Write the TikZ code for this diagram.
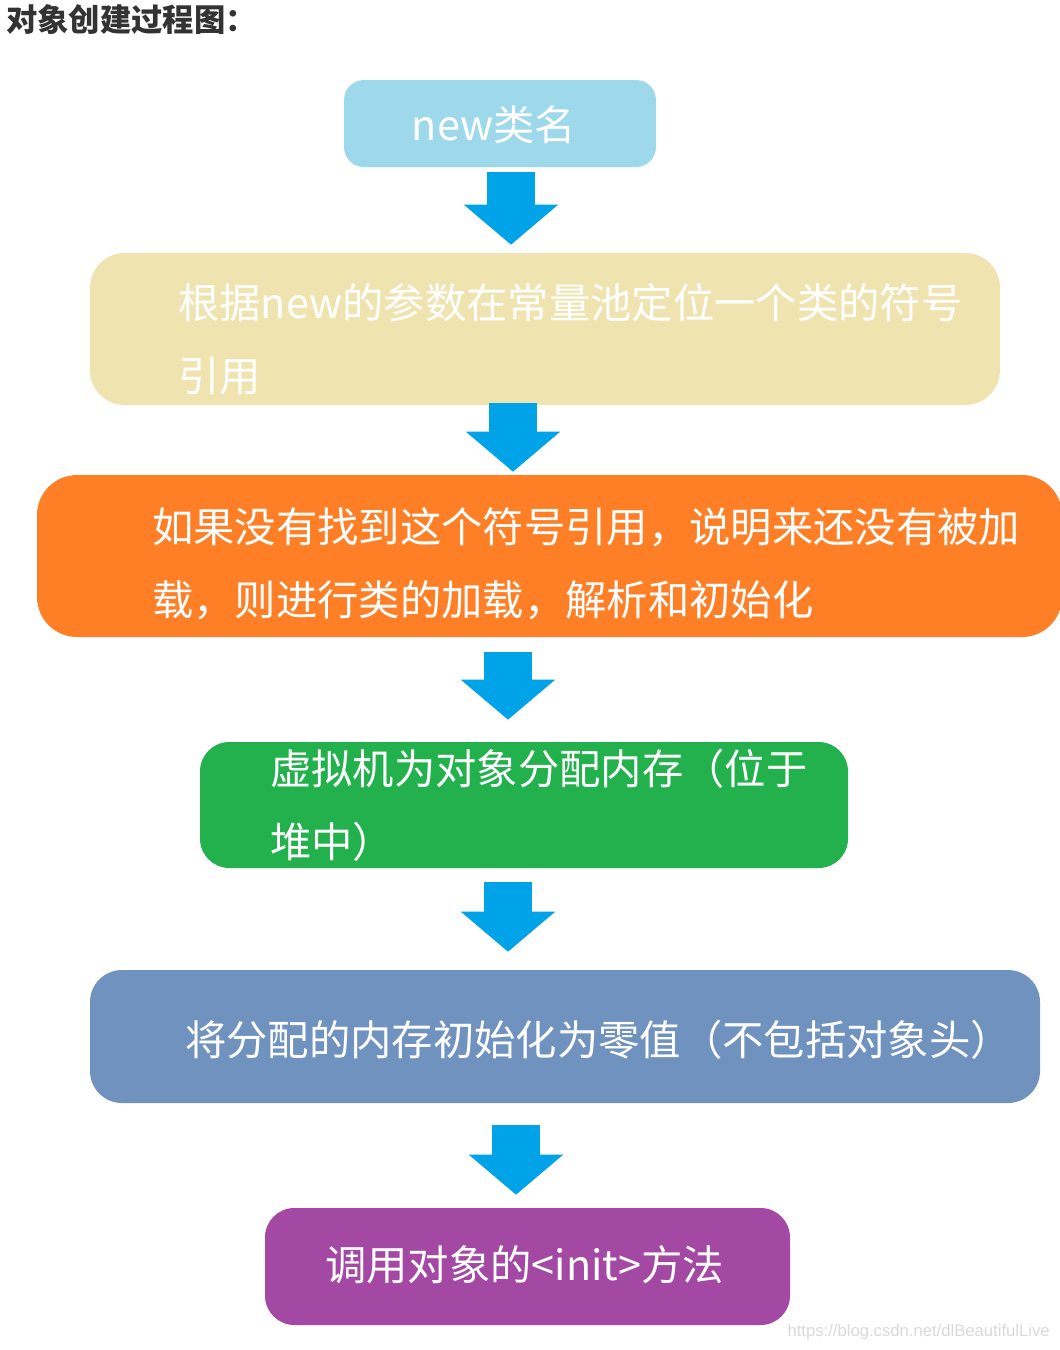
\documentclass[tikz,border=0pt]{standalone}
\usepackage{fontspec}
\setmainfont{Noto Sans CJK SC}
\newfontfamily\urlfont{Liberation Sans}
\usetikzlibrary{arrows.meta}
\definecolor{newblue}{HTML}{9DD9EA}
\definecolor{poolyellow}{HTML}{EFE4B0}
\definecolor{loadorange}{HTML}{FF7F27}
\definecolor{heapgreen}{HTML}{22B14C}
\definecolor{zerogrey}{HTML}{7092BE}
\definecolor{initpurple}{HTML}{A349A4}
\definecolor{flowblue}{HTML}{00A2E8}
\begin{document}
\begin{tikzpicture}[x=0.75pt,y=-0.75pt,
  box/.style={rounded corners=18pt,inner sep=0pt},
  txt/.style={text=white,align=left,inner sep=0pt,font=\fontsize{31pt}{55pt}\selectfont},
  flow/.style={draw=flowblue,line width=36pt,-{Triangle[width=69pt,length=30pt]}}]
\useasboundingbox (0,0) rectangle (1060,1350);
\node[anchor=west,inner sep=0pt,text=black!80,font=\fontsize{23.5pt}{26pt}\selectfont\bfseries] (title) at (6,20) {对象创建过程图：};
\node[box,fill=newblue,rounded corners=15pt,minimum width=234pt,minimum height=65.25pt] (b1) at (500,123.5) {};
\node[box,fill=poolyellow,rounded corners=26pt,minimum width=682.5pt,minimum height=114pt] (b2) at (545,329) {};
\node[box,fill=loadorange,rounded corners=30pt,minimum width=768.75pt,minimum height=121.5pt] (b3) at (549.5,556) {};
\node[box,fill=heapgreen,rounded corners=22pt,minimum width=486pt,minimum height=94.5pt] (b4) at (524,805) {};
\node[box,fill=zerogrey,rounded corners=24pt,minimum width=712.5pt,minimum height=99.75pt] (b5) at (565,1036.5) {};
\node[box,fill=initpurple,rounded corners=22pt,minimum width=393.75pt,minimum height=87.75pt] (b6) at (527.5,1266.5) {};
\node[txt] (t1) at (494,125) {new类名};
\node[txt,anchor=west] (t2) at (178,339.5) {根据new的参数在常量池定位一个类的符号\\引用};
\node[txt,anchor=west] (t3) at (152,564) {如果没有找到这个符号引用，说明来还没有被加\\载，则进行类的加载，解析和初始化};
\node[txt,anchor=west] (t4) at (270,805) {虚拟机为对象分配内存（位于\\堆中）};
\node[txt,anchor=west] (t5) at (185,1040) {将分配的内存初始化为零值（不包括对象头）};
\node[txt,anchor=west] (t6) at (325,1265) {调用对象的<init>方法};
\node[anchor=east,inner sep=0pt,text=black!15,font=\urlfont\fontsize{12.5pt}{14pt}\selectfont] (url) at (1050,1332) {https://blog.csdn.net/dlBeautifulLive};
\draw[flow,shorten <=3.75pt,shorten >=6pt] (b1.south -| 511,0) -- (b2.north -| 511,0);
\draw[flow,shorten <=-1.5pt,shorten >=2.25pt] (b2.south -| 513,0) -- (b3.north -| 513,0);
\draw[flow,shorten <=11.25pt,shorten >=16.5pt] (b3.south -| 508,0) -- (b4.north -| 508,0);
\draw[flow,shorten <=10.5pt,shorten >=13.5pt] (b4.south -| 508,0) -- (b5.north -| 508,0);
\draw[flow,shorten <=16.5pt,shorten >=9.75pt] (b5.south -| 516,0) -- (b6.north -| 516,0);
\end{tikzpicture}
\end{document}
